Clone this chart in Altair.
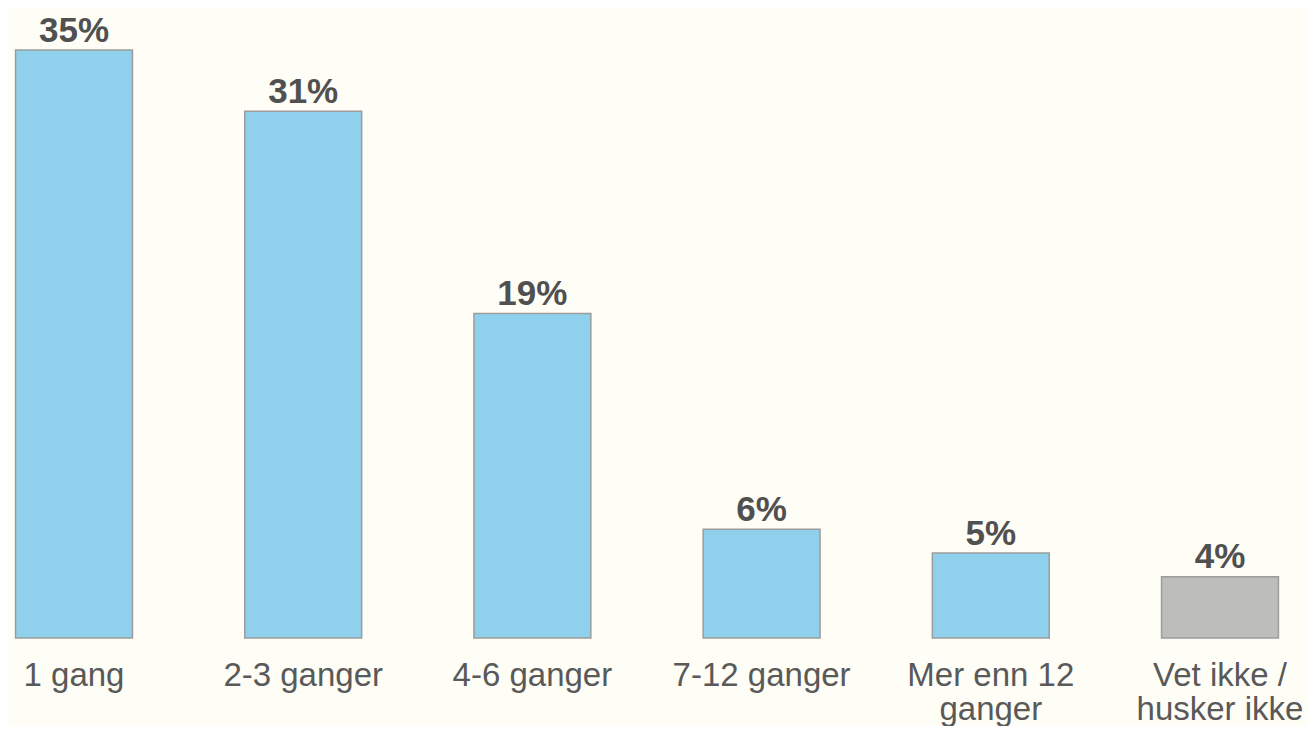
import altair as alt
import pandas as pd

categories = ["1 gang", "2-3 ganger", "4-6 ganger", "7-12 ganger",
              "Mer enn 12\nganger", "Vet ikke /\nhusker ikke"]
values = [34.6, 31.0, 19.1, 6.4, 5.0, 3.6]
value_labels = ["35%", "31%", "19%", "6%", "5%", "4%"]
groups = ["svar", "svar", "svar", "svar", "svar", "vet ikke"]

df = pd.DataFrame({"cat": categories, "val": values, "lab": value_labels, "grp": groups})

x = alt.X("cat:N", sort=categories, title=None,
          scale=alt.Scale(paddingInner=0.49, paddingOuter=0.033),
          axis=alt.Axis(labelExpr="split(datum.label, '\\n')", labelFont="Liberation Sans",
                        labelFontSize=33, labelColor="#595959", labelAngle=0,
                        labelBaseline="alphabetic", labelPadding=47, labelLineHeight=34,
                        labelLimit=500, labelOverlap=False, ticks=False, domain=False,
                        grid=False))
y = alt.Y("val:Q", scale=alt.Scale(domain=[0, 34.6], nice=False, zero=True), axis=None)

bars = alt.Chart(df).mark_bar(stroke="#9c9c9c", strokeWidth=1.5).encode(
    x=x, y=y,
    color=alt.Color("grp:N", scale=alt.Scale(domain=["svar", "vet ikke"],
                                              range=["#8FD0EC", "#BDBDB9"]), legend=None),
)
text = alt.Chart(df).mark_text(font="Liberation Sans", fontSize=35, fontWeight="bold",
                               color="#505050", baseline="alphabetic", dy=-8.5).encode(
    x=alt.X("cat:N", sort=categories), y="val:Q", text="lab:N")

chart = alt.layer(bars, text).properties(
    width=1278, height=588,
    autosize=alt.AutoSizeParams(type="none"),
    padding={"left": 0, "top": 42, "right": 22, "bottom": 88},
).configure(background="#FEFDF6").configure_view(stroke=None)

chart.save("out.html", embed_options={"renderer": "svg", "actions": False})
